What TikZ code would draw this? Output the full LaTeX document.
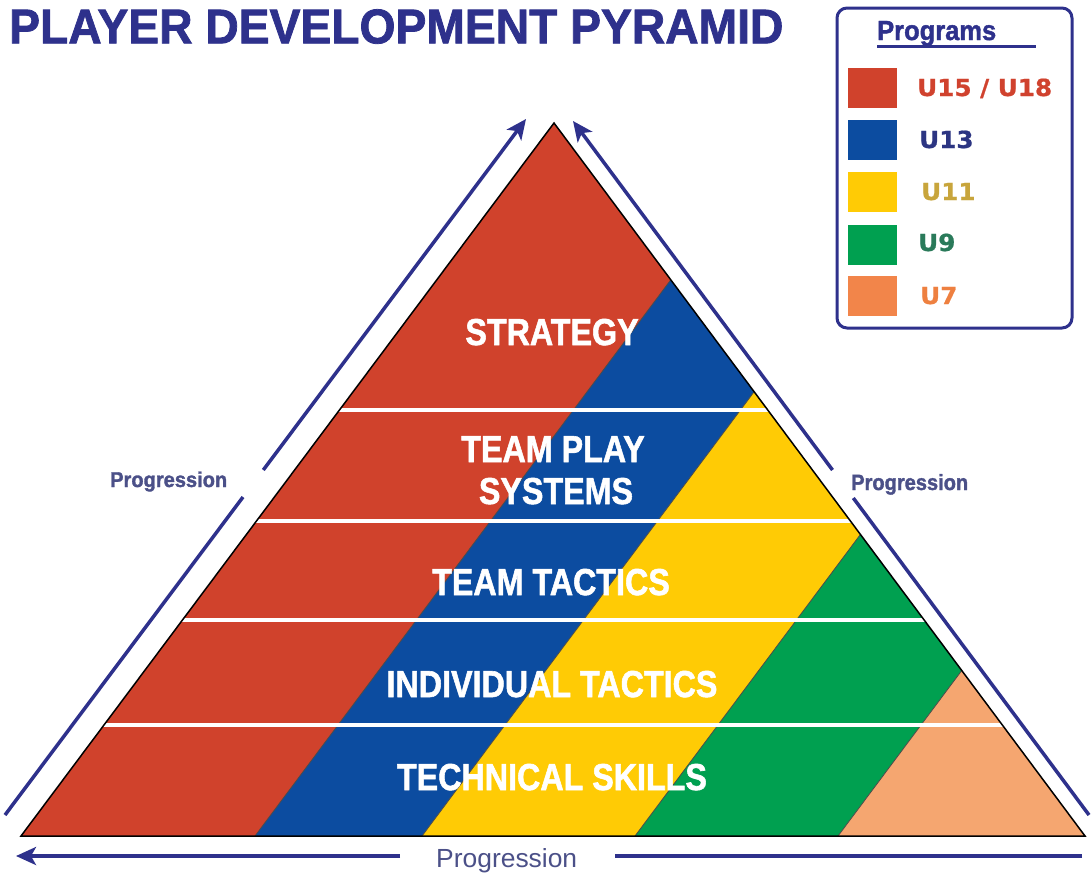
\documentclass[tikz,border=0pt]{standalone}
\usepackage{graphicx}
\usepackage{fontspec}
\setmainfont{Liberation Sans}
\newfontfamily\heavyfont{Liberation Sans Bold}[FakeBold=1.6]
\newfontfamily\legfont{DejaVu Sans Bold}[FakeBold=0.8]
\usetikzlibrary{arrows.meta}

\definecolor{navy}{RGB}{46,49,140}
\definecolor{pred}{RGB}{208,66,44}
\definecolor{pblue}{RGB}{12,76,160}
\definecolor{pyellow}{RGB}{255,203,5}
\definecolor{pgreen}{RGB}{0,160,80}
\definecolor{ppeach}{RGB}{245,166,112}
\definecolor{porange}{RGB}{242,133,74}
\definecolor{progtext}{RGB}{75,80,136}
\definecolor{tUa}{RGB}{208,66,46}
\definecolor{tUb}{RGB}{44,53,130}
\definecolor{tUc}{RGB}{200,165,60}
\definecolor{tUd}{RGB}{42,122,90}
\definecolor{tUe}{RGB}{238,128,64}

\newcommand{\condensed}[1]{\scalebox{0.86}[1]{#1}}
\newcommand{\wide}[1]{\scalebox{1.05}[1]{#1}}

\tikzset{
  levellabel/.style={anchor=base, inner sep=0pt, text=white,
    font=\heavyfont\fontsize{37.5}{40}\selectfont},
  swatch/.style={inner sep=0pt, minimum width=49pt, minimum height=40pt, draw=none},
  legendlabel/.style={anchor=base west, inner sep=0pt,
    font=\legfont\fontsize{23.5}{28}\selectfont},
  progline/.style={draw=navy, line width=3.5pt},
  progtip/.style={-{Stealth[length=20pt,width=18pt,inset=5pt]}},
  bandedge/.style={draw=black!70, line width=0.8pt},
  levelrule/.style={draw=white, line width=4pt},
}

\begin{document}
\begin{tikzpicture}[x=1pt,y=-1pt]
\useasboundingbox (0,0) rectangle (1091,873);

% title
\node[anchor=south west, inner sep=0pt, text=navy] (title) at (9,44)
  {\resizebox{774pt}{34pt}{\heavyfont PLAYER DEVELOPMENT PYRAMID}};

% pyramid corners
\coordinate (apex) at (554,123);
\coordinate (bl) at (21,836);
\coordinate (br) at (1085,836);

% coloured bands, each parallel to the left side
\begin{scope}
  \clip (apex) -- (bl) -- (br) -- cycle;
  \fill[pred] (0,0) rectangle (1091,873);
  \fill[pblue]   (255,836) -- ++(586.3,-784.3) -- (1200,51.7) -- (1200,900) -- cycle;
  \fill[pyellow] (422,836) -- ++(586.3,-784.3) -- (1200,51.7) -- (1200,900) -- cycle;
  \fill[pgreen]  (635,836) -- ++(586.3,-784.3) -- (1200,51.7) -- (1200,900) -- cycle;
  \fill[ppeach]  (838,836) -- ++(586.3,-784.3) -- (1200,51.7) -- (1200,900) -- cycle;
  \draw[bandedge] (255,836) -- ++(586.3,-784.3);
  \draw[bandedge] (422,836) -- ++(586.3,-784.3);
  \draw[bandedge] (635,836) -- ++(586.3,-784.3);
  \draw[bandedge] (838,836) -- ++(586.3,-784.3);
  % level separators
  \draw[levelrule] (0,410) -- (1091,410);
  \draw[levelrule] (0,521) -- (1091,521);
  \draw[levelrule] (0,620) -- (1091,620);
  \draw[levelrule] (0,725) -- (1091,725);
\end{scope}
\draw[black, line width=1.5pt, line join=miter] (apex) -- (bl) -- (br) -- cycle;

% level labels
\node[levellabel] (strategy)   at (552,345) {\condensed{STRATEGY}};
\node[levellabel] (teamplay)   at (553,462) {\condensed{TEAM PLAY}};
\node[levellabel] (systems)    at (556,504) {\condensed{SYSTEMS}};
\node[levellabel] (teamtac)    at (551,595) {\condensed{TEAM TACTICS}};
\node[levellabel] (indtac)     at (552,697) {\condensed{INDIVIDUAL TACTICS}};
\node[levellabel] (techskills) at (552,790) {\condensed{TECHNICAL SKILLS}};

% progression arrows along the sides
\coordinate (lstart) at (5,815);
\coordinate (lgapA)  at (243,497);
\coordinate (lgapB)  at (263.3,470);
\coordinate (ltip)   at (526,119);
\draw[progline] (lstart) -- (lgapA);
\draw[progline, progtip] (lgapB) -- (ltip);

\coordinate (rstart) at (1089,815);
\coordinate (rgapA)  at (853.3,498);
\coordinate (rgapB)  at (832.5,470);
\coordinate (rtip)   at (573,121);
\draw[progline] (rstart) -- (rgapA);
\draw[progline, progtip] (rgapB) -- (rtip);

\node[anchor=base west, inner sep=0pt, text=progtext] (progleft) at (110,487)
  {\resizebox{117pt}{15.5pt}{\heavyfont Progression}};
\node[anchor=base west, inner sep=0pt, text=progtext] (progright) at (851,490)
  {\resizebox{117pt}{16pt}{\heavyfont Progression}};

% progression arrow along the base
\coordinate (bstart) at (1082,856);
\coordinate (bgapA)  at (615,856);
\coordinate (bgapB)  at (400,856);
\coordinate (btip)   at (16,856);
\draw[progline] (bstart) -- (bgapA);
\draw[progline, progtip] (bgapB) -- (btip);
\node[anchor=base west, inner sep=0pt, text=progtext] (progbottom) at (436,867)
  {\resizebox{141pt}{19pt}{Progression}};

% legend
\draw[navy, line width=3pt, rounded corners=10pt] (837,8) rectangle (1072,328);
\node[anchor=base west, inner sep=0pt, text=navy] (programs) at (877,40)
  {\resizebox{119pt}{19pt}{\heavyfont Programs}};
\draw[navy, line width=3pt] (877,46) -- (1036,46);

\node[swatch, fill=pred]    (swa) at (872.5,88)  {};
\node[swatch, fill=pblue]   (swb) at (872.5,140) {};
\node[swatch, fill=pyellow] (swc) at (872.5,192) {};
\node[swatch, fill=pgreen]  (swd) at (872.5,245) {};
\node[swatch, fill=porange] (swe) at (872.5,296) {};

\node[legendlabel, text=tUa] (lga) at (917,96)  {\wide{U15 / U18}};
\node[legendlabel, text=tUb] (lgb) at (919,148) {\wide{U13}};
\node[legendlabel, text=tUc] (lgc) at (921,200) {\wide{U11}};
\node[legendlabel, text=tUd] (lgd) at (918,251) {\wide{U9}};
\node[legendlabel, text=tUe] (lge) at (920,304) {\wide{U7}};
\end{tikzpicture}
\end{document}
